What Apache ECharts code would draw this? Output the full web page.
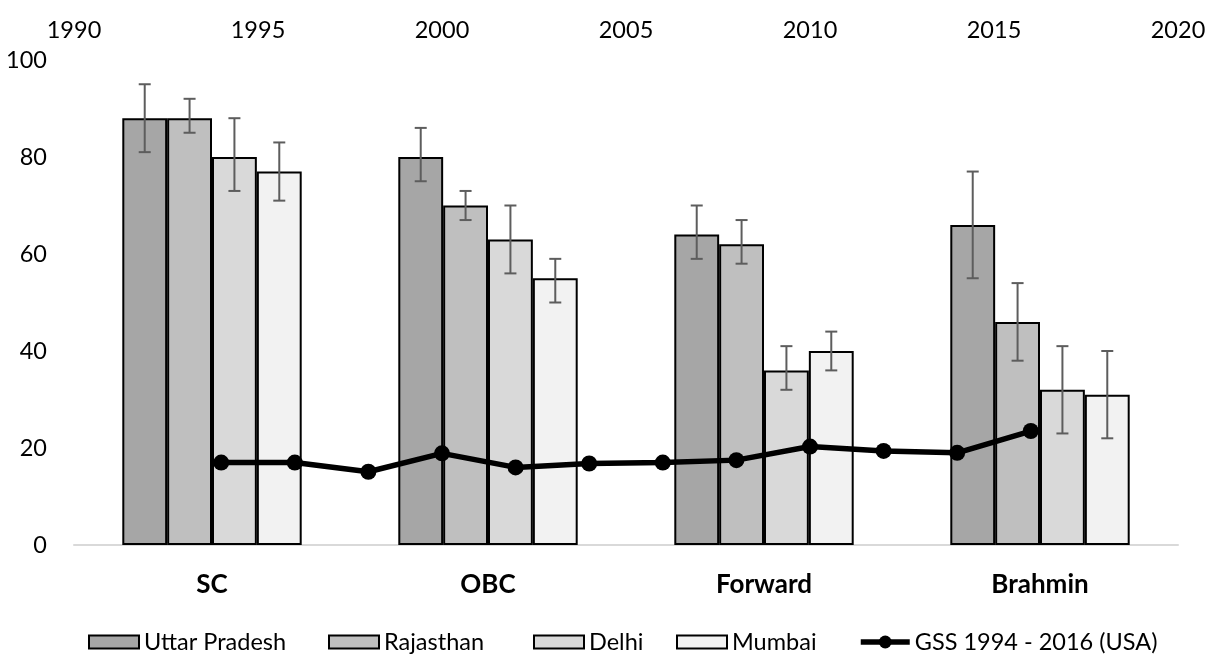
<!DOCTYPE html>
<html>
<head>
<meta charset="utf-8">
<script src="https://cdn.jsdelivr.net/npm/echarts@6/dist/echarts.min.js"></script>
<style>
  html, body { margin: 0; padding: 0; background: #ffffff; }
  #chart { width: 1211px; height: 654px; }
</style>
</head>
<body>
<div id="chart"></div>
<script>
// Caste groups on the category axis
const categories = ['SC', 'OBC', 'Forward', 'Brahmin'];

// Regional survey means with lower / upper error bounds
const uttarPradesh     = [88, 80, 64, 66];
const uttarPradeshLow  = [81, 75, 59, 55];
const uttarPradeshHigh = [95, 86, 70, 77];

const rajasthan     = [88, 70, 62, 46];
const rajasthanLow  = [85, 67, 58, 38];
const rajasthanHigh = [92, 73, 67, 54];

const delhi     = [80, 63, 36, 32];
const delhiLow  = [73, 56, 32, 23];
const delhiHigh = [88, 70, 41, 41];

const mumbai     = [77, 55, 40, 31];
const mumbaiLow  = [71, 50, 36, 22];
const mumbaiHigh = [83, 59, 44, 40];

// General Social Survey (USA) by year
const gssYears  = [1994, 1996, 1998, 2000, 2002, 2004, 2006, 2008, 2010, 2012, 2014, 2016];
const gssValues = [17.0, 17.0, 15.1, 18.9, 16.0, 16.8, 17.0, 17.5, 20.3, 19.4, 19.0, 23.5];

// Axis ranges and tick steps
const yearMin = 1990, yearMax = 2020, yearStep = 5;
const valueMin = 0, valueMax = 100, valueStep = 20;

const FONT = 'Lato';
const FONT_SIZE = 23.5;
const CATEGORY_GAP = 0.35;
const BAR_COUNT = 4;

const regions = [
  { name: 'Uttar Pradesh', values: uttarPradesh, low: uttarPradeshLow, high: uttarPradeshHigh, color: '#a6a6a6', legendLeft: 83 },
  { name: 'Rajasthan',     values: rajasthan,    low: rajasthanLow,    high: rajasthanHigh,    color: '#bfbfbf', legendLeft: 323 },
  { name: 'Delhi',         values: delhi,        low: delhiLow,        high: delhiHigh,        color: '#d9d9d9', legendLeft: 528 },
  { name: 'Mumbai',        values: mumbai,       low: mumbaiLow,       high: mumbaiHigh,       color: '#f2f2f2', legendLeft: 671 }
];

const barSeries = regions.map(r => ({
  name: r.name,
  type: 'bar',
  xAxisIndex: 0,
  yAxisIndex: 0,
  data: r.values,
  barGap: '0%',
  barCategoryGap: (CATEGORY_GAP * 100) + '%',
  itemStyle: { color: r.color, borderColor: '#000000', borderWidth: 2 },
  z: 2
}));

// Error whiskers placed over the matching bar slot in each group
const errorSeries = regions.map((r, slot) => ({
  name: r.name + ' range',
  type: 'custom',
  xAxisIndex: 0,
  yAxisIndex: 0,
  z: 3,
  silent: true,
  data: categories.map((c, i) => [i, r.low[i], r.high[i]]),
  renderItem: function (params, api) {
    const idx = api.value(0);
    const lo = api.coord([idx, api.value(1)]);
    const hi = api.coord([idx, api.value(2)]);
    const band = api.size([1, 0])[0];
    const barW = band * (1 - CATEGORY_GAP) / BAR_COUNT;
    const x = lo[0] + (slot - (BAR_COUNT - 1) / 2) * barW;
    const cap = 6;
    const style = { stroke: '#5d5d5d', lineWidth: 2 };
    return {
      type: 'group',
      children: [
        { type: 'line', shape: { x1: x, y1: hi[1], x2: x, y2: lo[1] }, style: style },
        { type: 'line', shape: { x1: x - cap, y1: hi[1], x2: x + cap, y2: hi[1] }, style: style },
        { type: 'line', shape: { x1: x - cap, y1: lo[1], x2: x + cap, y2: lo[1] }, style: style }
      ]
    };
  }
}));

const gssSeries = {
  name: 'GSS 1994 - 2016 (USA)',
  type: 'line',
  xAxisIndex: 1,
  yAxisIndex: 0,
  data: gssYears.map((y, i) => [y, gssValues[i]]),
  symbol: 'circle',
  symbolSize: 16,
  lineStyle: { color: '#000000', width: 5.5 },
  itemStyle: { color: '#000000' },
  z: 4
};

const legendText = { fontFamily: FONT, fontSize: FONT_SIZE, color: '#000000' };

const legends = regions.map(r => ({
  data: [r.name],
  left: r.legendLeft,
  top: 625,
  itemWidth: 50,
  itemHeight: 13,
  icon: 'rect',
  textStyle: legendText
}));
legends.push({
  data: [gssSeries.name],
  left: 853,
  top: 625,
  itemWidth: 49,
  itemHeight: 16,
  lineStyle: { width: 5.5 },
  textStyle: legendText
});

const chart = echarts.init(document.getElementById('chart'), null, { renderer: 'canvas' });

chart.setOption({
  animation: false,
  backgroundColor: '#ffffff',
  textStyle: { fontFamily: FONT },
  grid: { left: 74, right: 33, top: 60, bottom: 109, containLabel: false },
  legend: legends,
  xAxis: [
    {
      type: 'category',
      data: categories,
      position: 'bottom',
      axisLine: { show: true, lineStyle: { color: '#d9d9d9', width: 2 } },
      axisTick: { show: false },
      axisLabel: { margin: 27, fontFamily: FONT, fontSize: 26, fontWeight: 'bold', color: '#000000' },
      splitLine: { show: false }
    },
    {
      type: 'value',
      position: 'top',
      min: yearMin,
      max: yearMax,
      interval: yearStep,
      axisLine: { show: false },
      axisTick: { show: false },
      splitLine: { show: false },
      axisLabel: {
        margin: 18,
        fontFamily: FONT,
        fontSize: FONT_SIZE,
        color: '#000000',
        formatter: v => String(v)
      }
    }
  ],
  yAxis: {
    type: 'value',
    min: valueMin,
    max: valueMax,
    interval: valueStep,
    axisLine: { show: false },
    axisTick: { show: false },
    splitLine: { show: false },
    axisLabel: { margin: 27, fontFamily: FONT, fontSize: FONT_SIZE, color: '#000000' }
  },
  series: [...barSeries, ...errorSeries, gssSeries]
});
</script>
</body>
</html>
